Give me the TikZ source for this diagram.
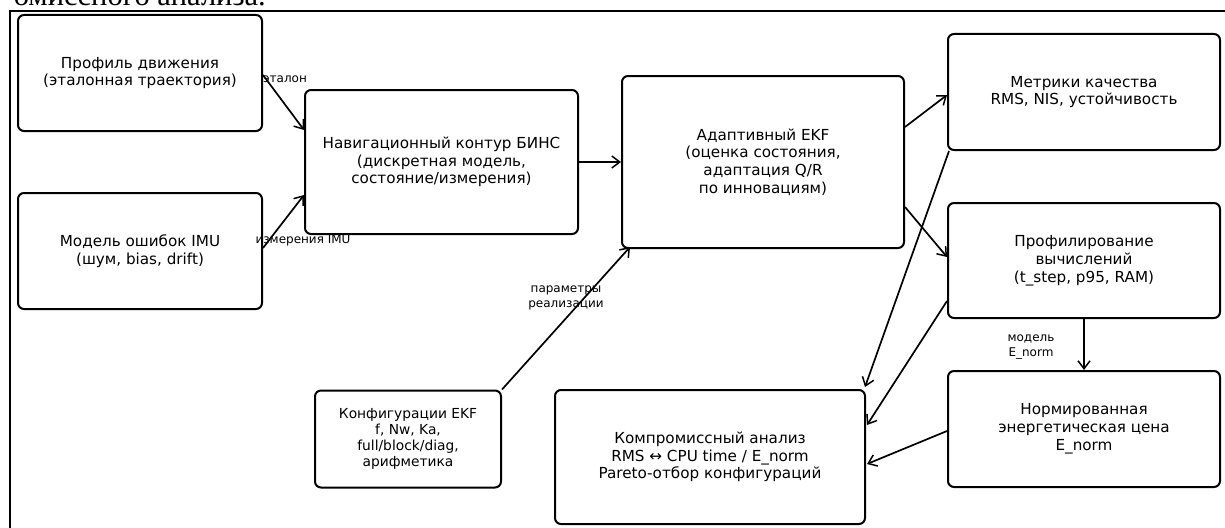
\documentclass[tikz,border=0pt]{standalone}
\usepackage{fontspec}
\setmainfont{DejaVu Sans}
\newfontfamily\serifdoc{Liberation Serif}
\usetikzlibrary{arrows.meta,calc}
\tikzset{
  blk/.style={draw=black, line width=2pt, rounded corners=6pt, inner sep=0pt,
    align=center, font=\fontsize{15.2}{17.8}\selectfont},
  conn/.style={line width=1.7pt, -{Straight Barb[length=8pt,width=12pt,line width=1.5pt]}},
  lbl/.style={font=\fontsize{12}{15}\selectfont, align=center, inner sep=0pt},
}
\begin{document}
\begin{tikzpicture}[x=1pt,y=-1pt]
\useasboundingbox (0,0) rectangle (1225,527);
\clip (0,0) rectangle (1225,527);
\fill[white] (0,0) rectangle (1225,527);
% surrounding document text (cut off)
\node[anchor=base east, inner sep=0pt, font=\serifdoc\fontsize{30.5}{34}\selectfont] (doctext) at (266,6) {омиссного анализа.};
% frame
\draw[line width=2pt] (10,540) |- (1240,11);
% boxes
\node[blk, minimum width=244pt, minimum height=116pt] (b1) at (140,73) {Профиль движения\\(эталонная траектория)};
\node[blk, minimum width=244pt, minimum height=116pt] (b2) at (140,251) {Модель ошибок IMU\\(шум, bias, drift)};
\node[blk, minimum width=273pt, minimum height=144pt] (b3) at (441.5,162) {Навигационный контур БИНС\\(дискретная модель,\\состояние/измерения)};
\node[blk, minimum width=282pt, minimum height=172pt] (b4) at (763,162) {Адаптивный EKF\\(оценка состояния,\\адаптация Q/R\\по инновациям)};
\node[blk, minimum width=272pt, minimum height=116pt] (b5) at (1084,92) {Метрики качества\\RMS, NIS, устойчивость};
\node[blk, minimum width=272pt, minimum height=115pt] (b6) at (1084,260.5) {Профилирование\\вычислений\\(t\_step, p95, RAM)};
\node[blk, minimum width=272pt, minimum height=116pt] (b7) at (1084,429) {Нормированная\\энергетическая цена\\E\_norm};
\node[blk, minimum width=186pt, minimum height=97pt, font=\fontsize{13.8}{16}\selectfont] (b8) at (408,439) {Конфигурации EKF\\f, Nw, Ka,\\full/block/diag,\\арифметика};
\node[blk, minimum width=310pt, minimum height=134pt] (b9) at (710,457) {Компромиссный анализ\\RMS ↔ CPU time / E\_norm\\Pareto-отбор конфигураций};
% connectors
\draw[conn] ([yshift=-2pt]b1.east) -- ([yshift=32pt]b3.west);
\draw[conn] ([yshift=3pt]b2.east) -- ([yshift=-33pt]b3.west);
\draw[conn] (b3.east) -- (b4.west);
\draw[conn] ([yshift=35pt]b4.east) -- ([yshift=-3pt]b5.west);
\draw[conn] ([yshift=-45pt]b4.east) -- ([yshift=3.5pt]b6.west);
\draw[conn] ([xshift=2pt]b5.south west) -- ([xshift=-1pt,yshift=2pt]b9.north east);
\draw[conn] ([yshift=-40.5pt]b6.west) -- ([xshift=1pt,yshift=32pt]b9.east);
\draw[conn] ([yshift=-2pt]b7.west) -- ([xshift=1pt,yshift=-7pt]b9.east);
\draw[conn] (b6.south) -- (b7.north);
\draw[conn] (b8.north east) -- ([xshift=9pt,yshift=2pt]b4.south west);
% labels
\node[lbl] (l1) at (285,79) {эталон};
\node[lbl] (l2) at (303,240) {измерения IMU};
\node[lbl] (l3) at (566,298) {параметры\\реализации};
\node[lbl] (l4) at (1031,347) {модель\\E\_norm};
\end{tikzpicture}
\end{document}
